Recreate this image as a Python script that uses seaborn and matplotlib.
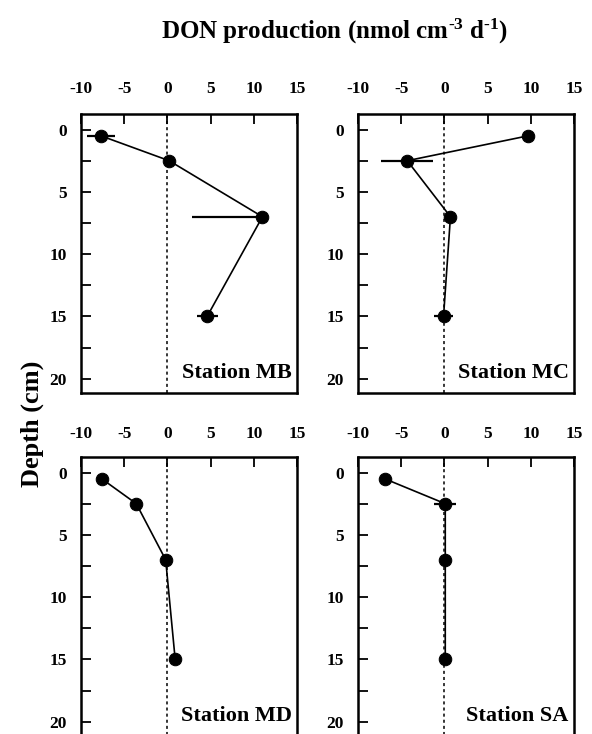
import numpy as np
import pandas as pd
import matplotlib
matplotlib.use("Agg")
import matplotlib.pyplot as plt
import seaborn as sns

# Depths of the sampled sediment intervals (cm)
depth = [0.5, 2.5, 7.0, 15.0]

# DON production rates per station (nmol cm-3 d-1)
mb_rate = [-7.7, 0.2, 11.0, 4.6]
mc_rate = [9.7, -4.3, 0.7, -0.1]
md_rate = [-7.6, -3.6, -0.2, 0.9]
sa_rate = [-6.9, 0.1, 0.1, 0.1]

# Error bars: lower and upper spread (0 = no bar)
mb_err_lo = [1.6, 0.0, 8.1, 1.2]
mb_err_hi = [1.6, 0.0, 0.0, 1.2]
mc_err_lo = [0.0, 3.0, 0.0, 1.1]
mc_err_hi = [0.0, 3.0, 0.0, 1.1]
md_err_lo = [0.0, 0.0, 0.0, 0.0]
md_err_hi = [0.0, 0.0, 0.0, 0.0]
sa_err_lo = [0.0, 1.3, 0.0, 0.0]
sa_err_hi = [0.0, 1.3, 0.0, 0.0]

stations = ["Station MB", "Station MC", "Station MD", "Station SA"]
x_ticks = [-10, -5, 0, 5, 10, 15]
y_ticks = [0, 5, 10, 15, 20]

sns.set_theme(style="ticks")
plt.rcParams["font.family"] = ["Liberation Serif", "DejaVu Serif"]
plt.rcParams["font.weight"] = "bold"
plt.rcParams["mathtext.fontset"] = "custom"
plt.rcParams["mathtext.rm"] = "Liberation Serif:bold"
plt.rcParams["mathtext.bf"] = "Liberation Serif:bold"
plt.rcParams["mathtext.default"] = "rm"
for key in ["text.color", "axes.labelcolor", "xtick.color", "ytick.color",
            "axes.edgecolor"]:
    plt.rcParams[key] = "black"

W, H = 592, 734
fig = plt.figure(figsize=(W / 100, H / 100), dpi=100)

def box(left, top, width, height):
    return [left / W, 1 - (top + height) / H, width / W, height / H]

panels = [
    (box(81, 114, 216, 279), mb_rate, mb_err_lo, mb_err_hi, 12),
    (box(358, 114, 216, 279), mc_rate, mc_err_lo, mc_err_hi, 12),
    (box(81, 457, 216, 279), md_rate, md_err_lo, md_err_hi, 11),
    (box(358, 457, 216, 279), sa_rate, sa_err_lo, sa_err_hi, 11),
]

for (pos, rate, elo, ehi, xpad), name in zip(panels, stations):
    ax = fig.add_axes(pos)
    df = pd.DataFrame({"depth": depth, "rate": rate})

    # zero reference line
    ax.axvline(0, color="black", linestyle=(0, (2, 2)), linewidth=1.1, zorder=1)

    # horizontal error bars
    lo = np.array(elo)
    hi = np.array(ehi)
    has = (lo > 0) | (hi > 0)
    if has.any():
        ax.errorbar(np.array(rate)[has], np.array(depth)[has],
                    xerr=[lo[has], hi[has]], fmt="none", ecolor="black",
                    elinewidth=1.6, capsize=0, zorder=2)

    sns.lineplot(data=df, x="rate", y="depth", sort=False, estimator=None,
                 color="black", linewidth=1.2, marker="o", markersize=9,
                 markeredgecolor="black", markerfacecolor="black",
                 ax=ax, zorder=3)

    ax.set_xlim(-10, 15)
    ax.set_ylim(21.15, -1.25)
    ax.set_xticks(x_ticks)
    ax.set_xticklabels([str(v) for v in x_ticks])
    ax.set_yticks(y_ticks)
    ax.set_yticklabels([str(v) for v in y_ticks])
    ax.set_yticks(np.arange(2.5, 20, 5), minor=True)
    ax.xaxis.tick_top()
    ax.tick_params(axis="x", which="major", direction="in", length=7, width=1.3,
                   pad=xpad, labelsize=12.5, top=True, bottom=False,
                   colors="black")
    ax.tick_params(axis="y", which="both", direction="in", length=7, width=1.3,
                   pad=10, labelsize=12.5, left=True, right=False,
                   colors="black")
    for lab in ax.get_xticklabels() + ax.get_yticklabels():
        lab.set_fontweight("bold")
    for s in ax.spines.values():
        s.set_visible(True)
        s.set_linewidth(1.8)
        s.set_color("black")
    ax.set_xlabel("")
    ax.set_ylabel("")
    ax.text(0.975, 0.035, name, transform=ax.transAxes, ha="right", va="bottom",
            fontsize=16, fontweight="bold", color="black")

fig.text(334 / W, 1 - 31 / H, r"DON production (nmol cm$^{\text{-3}}$ d$^{\text{-1}}$)",
         ha="center", va="center", fontsize=18, fontweight="bold", color="black")
fig.text(32 / W, 1 - 424 / H, "Depth (cm)", rotation=90, ha="center",
         va="center", fontsize=19, fontweight="bold", color="black")

fig.savefig("out.png", dpi=100)
